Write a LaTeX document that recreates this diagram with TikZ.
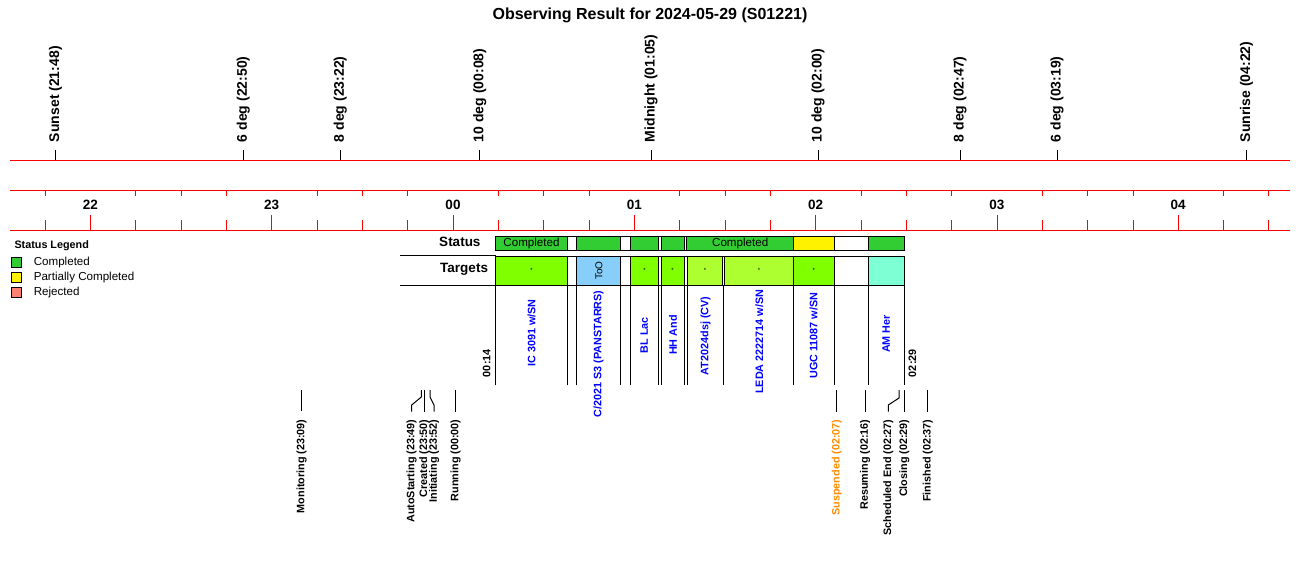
\documentclass[tikz,border=0pt]{standalone}
\usepackage{fontspec}
\setmainfont{Liberation Sans}
\usetikzlibrary{calc}

\definecolor{stgreen}{HTML}{32CD32}
\definecolor{tchart}{HTML}{7FFF00}
\definecolor{tgyel}{HTML}{ADFF2F}
\definecolor{tsky}{HTML}{87CEFA}
\definecolor{taqua}{HTML}{7FFFD4}
\definecolor{rejsalmon}{HTML}{FA8072}
\definecolor{susporange}{HTML}{FF8C00}

\begin{document}
\begin{tikzpicture}[x=1pt, y=-1pt, line width=1pt,
	ax/.style={red},
	evt/.style={rotate=90, anchor=west, inner sep=0pt, font=\fontsize{14}{16}\selectfont\bfseries},
	evb/.style={rotate=90, anchor=east, inner sep=0pt, font=\fontsize{10.8}{13}\selectfont\bfseries},
	tn/.style={rotate=90, inner sep=0pt, text=blue, font=\fontsize{10.8}{13}\selectfont\bfseries},
	lgbox/.style={draw, minimum size=10pt, inner sep=0pt},
	lgtxt/.style={anchor=west, inner sep=0pt, font=\fontsize{11.6}{14}\selectfont},
	row/.style={anchor=east, inner sep=0pt, font=\fontsize{13.5}{16}\selectfont\bfseries}]

	\useasboundingbox (0,0) rectangle (1300,560);

	\node[font=\fontsize{16}{19}\selectfont\bfseries] (title) at (650,15) {Observing Result for 2024-05-29 (S01221)};

	% time axes
	\coordinate (evL) at (10,160);   \coordinate (evR) at (1290,160);
	\coordinate (hrL) at (10,190.5); \coordinate (hrR) at (1290,190.5);
	\coordinate (btL) at (10,230.5); \coordinate (btR) at (1290,230.5);
	\draw[ax] (evL) -- (evR);
	\draw[ax] (hrL) -- (hrR);
	\draw[ax] (btL) -- (btR);

	\foreach \k in {-1,...,26}{
		\pgfmathsetmacro\tx{90.4+45.33*\k}
		\pgfmathtruncatemacro\q{mod(\k+4,4)}
		\ifnum\q=0
			\draw[ax] (\tx,215) -- (\tx,230.5);
		\else
			\draw[ax] (\tx,190.5) -- (\tx,196);
			\draw[ax] (\tx,220) -- (\tx,230.5);
		\fi
	}
	\foreach \h [count=\i from 0] in {22,23,00,01,02,03,04}
		\node[font=\fontsize{13.5}{16}\selectfont\bfseries] (h\i) at (90.4+181.3*\i,204.5) {\h};

	% sun / twilight events
	\foreach \x/\t [count=\i] in {55.6/Sunset (21:48), 243.4/6 deg (22:50), 340.4/8 deg (23:22),
			479.7/10 deg (00:08), 651/Midnight (01:05), 818/10 deg (02:00), 960/8 deg (02:47),
			1057/6 deg (03:19), 1246.5/Sunrise (04:22)}{
		\node[evt] (ev\i) at (\x,142.5) {\t};
		\draw (ev\i.west) ++(0,7.5) -- ++(0,10);
	}

	% legend
	\node[anchor=west, inner sep=0pt, font=\fontsize{10.8}{13}\selectfont\bfseries] (lgd) at (14,246) {Status Legend};
	\node[lgbox, fill=stgreen] (lg1) at (16.5,262.3) {};
	\node[lgtxt] (lg1t) at (33.3,262.3) {Completed};
	\node[lgbox, fill=yellow] (lg2) at (16.5,277.3) {};
	\node[lgtxt] (lg2t) at (33.3,277.3) {Partially Completed};
	\node[lgbox, fill=rejsalmon] (lg3) at (16.5,292.3) {};
	\node[lgtxt] (lg3t) at (33.3,292.3) {Rejected};

	% status and targets rows
	\node[row] (stat) at (481,241.5) {Status};
	\node[row] (targ) at (488.5,269.5) {Targets};
	\coordinate (l1a) at (400,255.5); \coordinate (l1b) at (495.7,255.5);
	\coordinate (l2a) at (400,285);   \coordinate (l2b) at (495.7,285);
	\draw (l1a) -- (l1b);
	\draw (l2a) -- (l2b);

	\foreach \a/\b/\c in {495.7/567.3/stgreen, 567.3/576.3/white, 576.3/620.3/stgreen,
			620.3/630.5/white, 630.5/658.7/stgreen, 658.7/661/white, 661/684.3/stgreen,
			684.3/686.7/white, 686.7/793.7/stgreen, 793.7/834.3/yellow, 834.3/868.3/white,
			868.3/904.3/stgreen}
		\draw[fill=\c] (\a,236) rectangle (\b,250.7);
	\node[font=\fontsize{11.6}{14}\selectfont] (st1) at (531.5,243.3) {Completed};
	\node[font=\fontsize{11.6}{14}\selectfont] (st9) at (740.2,243.3) {Completed};

	\foreach \a/\b/\c in {495.7/567.3/tchart, 567.3/576.3/white, 576.3/620.3/tsky,
			620.3/630.5/white, 630.5/658.7/tchart, 658.7/661/white, 661/684/tchart,
			684/687.3/white, 687.3/722.3/tgyel, 722.3/724.3/white, 724.3/793.7/tgyel,
			793.7/834/tchart, 834/868.7/white, 868.7/904.2/taqua}
		\draw[fill=\c] (\a,256) rectangle (\b,285);
	\foreach \x [count=\i] in {531.5,644.6,672.5,705,759,813.9}
		\node[inner sep=0pt, font=\fontsize{6}{6}\selectfont] (dot\i) at (\x,270) {*};
	\node[rotate=90, inner sep=0pt, font=\fontsize{10}{12}\selectfont] (too) at (599,270.8) {ToO};

	\foreach \x in {495.7,567.3,576.3,620.3,630.7,658.5,661,684,687.3,723.7,793.7,834.3,868.5,904.2}
		\draw (\x,285) -- (\x,385.3);

	% target names
	\node[tn] (t1) at (531.5,333) {IC 3091 w/SN};
	\node[tn] (t2) at (598.5,354) {C/2021 S3 (PANSTARRS)};
	\node[tn] (t3) at (644.3,335) {BL Lac};
	\node[tn] (t4) at (673,335) {HH And};
	\node[tn] (t5) at (705.5,335.8) {AT2024dsj (CV)};
	\node[tn] (t6) at (759.3,341.7) {LEDA 2222714 w/SN};
	\node[tn] (t7) at (813.5,335.5) {UGC 11087 w/SN};
	\node[tn] (t8) at (886.2,334) {AM Her};

	\node[evb, anchor=west] (tbeg) at (486.7,377.5) {00:14};
	\node[evb, anchor=west] (tend) at (912.5,377.5) {02:29};

	% run events
	\node[evb] (mon) at (301.7,419) {Monitoring (23:09)};
	\draw ($(mon.east)+(0,-29)$) -- ($(mon.east)+(0,-8)$);
	\node[evb] (aut) at (411.7,419) {AutoStarting (23:49)};
	\draw ($(aut.east)+(9.6,-29)$) -- ++(0,7) -- ($(aut.east)+(0,-14)$) -- ($(aut.east)+(0,-7.5)$);
	\node[evb] (cre) at (424.3,419) {Created (23:50)};
	\draw ($(cre.east)+(0,-29)$) -- ($(cre.east)+(0,-7.5)$);
	\node[evb] (ini) at (434,419) {Initiating (23:52)};
	\draw ($(ini.east)+(-4,-29)$) -- ++(0,7) -- ($(ini.east)+(0,-14)$) -- ($(ini.east)+(0,-7.5)$);
	\node[evb] (run) at (455.5,419) {Running (00:00)};
	\draw ($(run.east)+(0,-29)$) -- ($(run.east)+(0,-7.5)$);

	\node[evb, text=susporange] (sus) at (836.7,419) {Suspended (02:07)};
	\draw ($(sus.east)+(0,-29)$) -- ($(sus.east)+(0,-7.5)$);
	\node[evb] (res) at (865,419) {Resuming (02:16)};
	\draw ($(res.east)+(0,-29)$) -- ($(res.east)+(0,-7.5)$);
	\node[evb] (sce) at (888.3,419) {Scheduled End (02:27)};
	\draw ($(sce.east)+(10.7,-29)$) -- ++(0,8) -- ($(sce.east)+(0,-14)$) -- ($(sce.east)+(0,-7.5)$);
	\node[evb] (clo) at (904.3,419) {Closing (02:29)};
	\draw ($(clo.east)+(0,-29)$) -- ($(clo.east)+(0,-7.5)$);
	\node[evb] (fin) at (927.7,419) {Finished (02:37)};
	\draw ($(fin.east)+(0,-29)$) -- ($(fin.east)+(0,-7.5)$);
\end{tikzpicture}
\end{document}
